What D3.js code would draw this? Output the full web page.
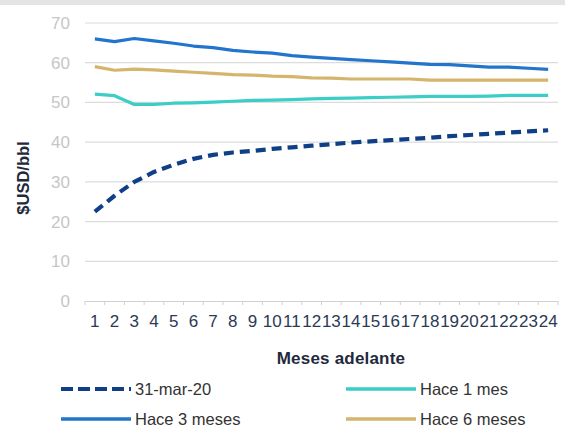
<!DOCTYPE html>
<html>
<head>
<meta charset="utf-8">
<script src="https://cdn.jsdelivr.net/npm/d3@7"></script>
<style>
  html, body { margin: 0; padding: 0; background: #fff; }
  svg { display: block; font-family: "Liberation Sans", Arial, sans-serif; }
</style>
</head>
<body>
<svg id="chart" width="565" height="429"></svg>
<script>
// Months ahead (futures curve horizon)
const months = d3.range(1, 25);

// WTI futures curves, USD per barrel
const curveMar31 = [22.5, 26.5, 30.0, 32.5, 34.3, 35.8, 36.8, 37.4, 37.8, 38.3, 38.7, 39.1,
                    39.5, 39.9, 40.2, 40.5, 40.8, 41.1, 41.5, 41.8, 42.1, 42.4, 42.7, 43.0];
const curve1m    = [52.1, 51.7, 49.5, 49.5, 49.8, 49.9, 50.1, 50.3, 50.5, 50.6, 50.7, 50.9,
                    51.0, 51.1, 51.2, 51.3, 51.4, 51.5, 51.5, 51.5, 51.6, 51.8, 51.8, 51.8];
const curve3m    = [66.0, 65.3, 66.1, 65.5, 64.9, 64.2, 63.8, 63.1, 62.7, 62.4, 61.8, 61.4,
                    61.1, 60.8, 60.5, 60.2, 59.9, 59.6, 59.5, 59.2, 58.9, 58.9, 58.6, 58.3];
const curve6m    = [59.0, 58.1, 58.4, 58.2, 57.9, 57.6, 57.3, 57.0, 56.9, 56.6, 56.5, 56.2,
                    56.1, 55.9, 55.9, 55.9, 55.9, 55.6, 55.6, 55.6, 55.6, 55.6, 55.6, 55.6];

const yTicks = [0, 10, 20, 30, 40, 50, 60, 70];

const seriesNames = ["31-mar-20", "Hace 1 mes", "Hace 3 meses", "Hace 6 meses"];
const seriesColors = ["#0f3f86", "#3ccdc6", "#2275cc", "#d5b46c"];

const series = [
  { name: seriesNames[0], values: curveMar31, color: seriesColors[0], dashed: true },
  { name: seriesNames[1], values: curve1m,    color: seriesColors[1], dashed: false },
  { name: seriesNames[2], values: curve3m,    color: seriesColors[2], dashed: false },
  { name: seriesNames[3], values: curve6m,    color: seriesColors[3], dashed: false }
];

const svg = d3.select("#chart");

// light grey band across the top
svg.append("rect").attr("x", 0).attr("y", 0).attr("width", 565).attr("height", 5)
  .attr("fill", "#e4e4e4");

const plot = { left: 85, right: 558, top: 23, bottom: 301 };

const x = d3.scaleBand().domain(months).range([plot.left, plot.right]);
const y = d3.scaleLinear().domain([0, 70]).range([plot.bottom, plot.top]);

// horizontal gridlines
svg.append("g").selectAll("line")
  .data(yTicks.filter(d => d > 0))
  .join("line")
  .attr("x1", plot.left).attr("x2", plot.right)
  .attr("y1", d => y(d)).attr("y2", d => y(d))
  .attr("stroke", "#dcdcdc").attr("stroke-width", 1.2);

// y axis labels
const yAxis = d3.axisLeft(y).tickValues(yTicks).tickSize(0).tickPadding(15);
const gy = svg.append("g").attr("transform", `translate(${plot.left},0)`).call(yAxis);
gy.select(".domain").remove();
gy.selectAll("text").attr("fill", "#c6c6c6").style("font-size", "17px")
  .style("font-family", "'Liberation Sans', Arial, sans-serif");

// x axis with ticks between categories
const xAxis = d3.axisBottom(x).tickSize(0).tickPadding(14);
const gx = svg.append("g").attr("transform", `translate(0,${plot.bottom})`).call(xAxis);
gx.select(".domain").attr("stroke", "#d0d0d0").attr("stroke-width", 1.2);
gx.selectAll("text").attr("fill", "#2b3a55").style("font-size", "17px")
  .style("font-family", "'Liberation Sans', Arial, sans-serif");
gx.append("g").selectAll("line")
  .data(months.concat([months.length + 1]))
  .join("line")
  .attr("x1", (d, i) => plot.left + i * x.step())
  .attr("x2", (d, i) => plot.left + i * x.step())
  .attr("y1", 0).attr("y2", 4)
  .attr("stroke", "#d0d0d0").attr("stroke-width", 1);

// axis titles
svg.append("text")
  .attr("x", 341).attr("y", 364)
  .attr("text-anchor", "middle")
  .attr("fill", "#1f2a3c")
  .style("font-weight", "bold").style("font-size", "17px")
  .style("letter-spacing", "0.2px")
  .text("Meses adelante");

svg.append("text")
  .attr("transform", "translate(29,178) rotate(-90)")
  .attr("text-anchor", "middle")
  .attr("fill", "#1f2a3c")
  .style("font-weight", "bold").style("font-size", "16.5px")
  .text("$USD/bbl");

// curves
const line = d3.line()
  .x((d, i) => x(months[i]) + x.bandwidth() / 2)
  .y(d => y(d));

const drawOrder = [series[2], series[3], series[1], series[0]];
svg.append("g").selectAll("path")
  .data(drawOrder)
  .join("path")
  .attr("d", d => line(d.values))
  .attr("fill", "none")
  .attr("stroke", d => d.color)
  .attr("stroke-width", d => d.dashed ? 4.2 : 3.2)
  .attr("stroke-dasharray", d => d.dashed ? "10,6" : null)
  .attr("stroke-linejoin", "round");

// legend
const legendPos = [
  { x: 61, y: 389 }, { x: 346, y: 389 },
  { x: 61, y: 419 }, { x: 346, y: 419 }
];
const lg = svg.append("g").selectAll("g")
  .data(series)
  .join("g")
  .attr("transform", (d, i) => `translate(${legendPos[i].x},${legendPos[i].y})`);
lg.append("line")
  .attr("x1", 0).attr("x2", 70).attr("y1", 0).attr("y2", 0)
  .attr("stroke", d => d.color)
  .attr("stroke-width", d => d.dashed ? 4.2 : 3.4)
  .attr("stroke-dasharray", d => d.dashed ? "12,5" : null);
lg.append("text")
  .attr("x", 74).attr("y", 6)
  .attr("fill", "#333")
  .style("font-size", "16.5px")
  .text(d => d.name);
</script>
</body>
</html>
